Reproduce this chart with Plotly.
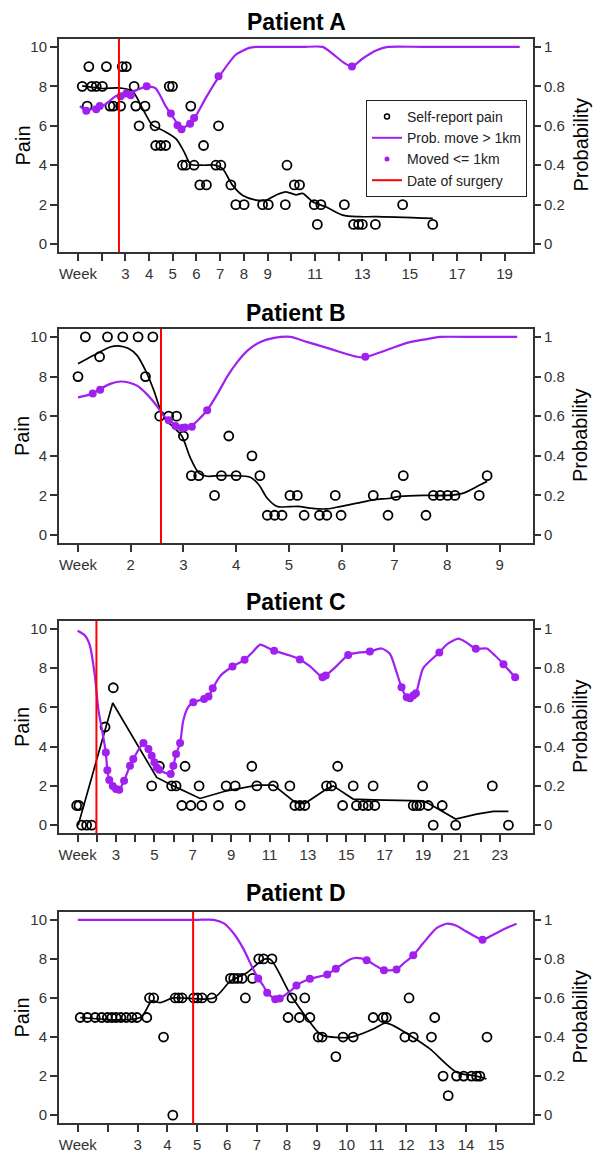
import plotly.graph_objects as go

W, H = 593, 1159
PURPLE = '#A020F0'
FONT = 'Liberation Sans, Arial, sans-serif'
AX = '#333333'

# ---------------- Patient A ----------------
A_pain_week = [1.18, 1.58, 1.77, 2.03, 3.37, 4.85, 4.99,
               1.46, 2.2, 2.87, 3.04,
               1.39, 2.35, 2.49, 2.8, 3.44, 3.83, 5.76,
               3.58, 4.25, 6.93,
               4.28, 4.49, 4.70, 6.3,
               5.41, 5.55, 5.9, 6.82, 7.03, 9.82,
               6.14, 6.42, 7.45, 10.13, 10.35,
               7.66, 8.01, 8.79, 9.03, 9.75, 10.97, 11.25, 12.24, 14.7,
               11.1, 12.63, 12.84, 13.0, 13.55, 15.97]
A_pain = [8, 8, 8, 8, 8, 8, 8,
          9, 9, 9, 9,
          7, 7, 7, 7, 7, 7, 7,
          6, 6, 6,
          5, 5, 5, 5,
          4, 4, 4, 4, 4, 4,
          3, 3, 3, 3, 3,
          2, 2, 2, 2, 2, 2, 2, 2, 2,
          1, 1, 1, 1, 1, 1]
A_fit_week = [1.18, 2.03, 2.73, 3.30, 3.72, 4.14, 4.56, 5.13, 5.48, 5.76, 6.25, 6.82, 7.10,
              7.52, 7.94, 8.51, 8.93, 9.35, 9.77, 10.2, 10.48, 10.9, 11.46, 12.17, 12.87, 13.58, 15.97]
A_fit = [8.02, 7.89, 7.92, 7.75, 6.88, 6.03, 5.78, 5.35, 4.68, 4.05, 4.0, 4.0, 3.83,
         2.99, 2.48, 2.23, 2.23, 2.48, 2.65, 2.5, 2.57, 2.15, 1.89, 1.47, 1.39, 1.39, 1.30]
A_prob_week = [1.08, 1.32, 1.75, 2.17, 2.59, 3.01, 3.44, 3.93, 4.28, 4.70, 4.92, 5.27, 5.41, 5.69,
               5.97, 6.39, 6.96, 7.66, 8.23, 8.51, 9.5, 10.5, 11.32, 11.74, 12.17, 12.56, 13.0,
               13.6, 14.07, 15.5, 17.5, 19.64]
A_prob = [0.70, 0.68, 0.69, 0.71, 0.75, 0.76, 0.78, 0.80, 0.79, 0.70, 0.66, 0.60, 0.59, 0.61,
          0.65, 0.74, 0.85, 0.96, 0.995, 1.0, 1.0, 1.0, 1.0, 0.966, 0.924, 0.90, 0.94,
          0.983, 1.0, 1.0, 1.0, 1.0]
A_dot_week = [1.35, 1.77, 1.92, 2.8, 3.04, 3.23, 3.9, 4.92, 5.2, 5.37, 5.73, 5.9, 6.93, 12.56]
A_dot = [0.676, 0.684, 0.70, 0.75, 0.764, 0.755, 0.80, 0.662, 0.603, 0.583, 0.61, 0.64, 0.851, 0.90]
A_surgery = 2.73
A_ticks = list(range(1, 20))
A_ticktext = ['Week', '', '3', '4', '5', '6', '7', '8', '9', '', '11', '', '13', '', '15', '', '17', '', '19']

# ---------------- Patient B ----------------
B_pain_week = [1.0, 1.14, 1.41, 1.56, 1.85, 2.14, 2.42, 2.28, 2.55, 2.72, 2.87, 3.0, 3.15, 3.29,
               3.59, 3.72, 3.86, 4.0, 4.30, 4.45, 4.59, 4.73, 4.87, 5.02, 5.16, 5.29, 5.58, 5.72,
               5.88, 5.99, 6.60, 6.88, 7.03, 7.17, 7.6, 7.74, 7.87, 8.01, 8.15, 8.61, 8.76]
B_pain = [8, 10, 9, 10, 10, 10, 10, 8, 6, 6, 6, 5, 3, 3,
          2, 3, 5, 3, 4, 3, 1, 1, 1, 2, 2, 1, 1, 1,
          2, 1, 2, 1, 2, 3, 1, 2, 2, 2, 2, 2, 3]
B_fit_week = [1.0, 1.30, 1.61, 1.80, 1.96, 2.12, 2.28, 2.44, 2.56, 2.69, 2.82, 2.97, 3.13, 3.29,
              3.45, 3.70, 3.96, 4.27, 4.43, 4.59, 4.78, 5.03, 5.22, 5.40, 5.72, 5.97, 6.29, 6.60,
              6.92, 7.11, 7.55, 7.99, 8.31, 8.63, 8.76]
B_fit = [8.64, 9.07, 9.49, 9.54, 9.41, 9.07, 8.31, 7.29, 6.36, 5.76, 5.42, 5.0, 3.9, 3.14,
         2.97, 3.0, 3.0, 2.92, 2.54, 1.86, 1.44, 1.44, 1.44, 1.36, 1.32, 1.44, 1.61, 1.78,
         1.86, 1.95, 2.0, 2.0, 2.12, 2.54, 2.71]
B_prob_week = [1.0, 1.23, 1.42, 1.61, 1.80, 1.96, 2.12, 2.31, 2.5, 2.63, 2.72, 2.82, 2.97, 3.13,
               3.26, 3.45, 3.64, 3.83, 4.02, 4.21, 4.46, 4.72, 5.03, 5.34, 5.66, 5.97, 6.29, 6.45,
               6.60, 6.92, 7.24, 7.55, 7.87, 8.5, 9.33]
B_prob = [0.695, 0.71, 0.737, 0.763, 0.775, 0.77, 0.754, 0.71, 0.65, 0.60, 0.585, 0.56, 0.54, 0.546,
          0.576, 0.63, 0.71, 0.80, 0.873, 0.93, 0.975, 0.995, 1.0, 0.975, 0.95, 0.924, 0.90, 0.898,
          0.91, 0.94, 0.97, 0.986, 1.0, 1.0, 1.0]
B_dot_week = [1.28, 1.42, 2.72, 2.85, 2.97, 3.03, 3.16, 3.45, 6.45]
B_dot = [0.715, 0.734, 0.58, 0.55, 0.54, 0.543, 0.547, 0.63, 0.90]
B_surgery = 2.575
B_ticks = list(range(1, 10))
B_ticktext = ['Week', '2', '3', '4', '5', '6', '7', '8', '9']

# ---------------- Patient C ----------------
C_pain_week = [0.95, 1.07, 1.21, 1.47, 1.73, 2.43, 2.86, 4.86, 5.26, 5.9, 6.13, 6.43, 6.6, 6.9,
               7.33, 7.47, 8.34, 8.74, 9.21, 9.47, 10.08, 10.34, 11.2, 12.06, 12.32, 12.58, 12.84,
               13.97, 14.23, 14.55, 14.81, 15.36, 15.53, 15.88, 16.14, 16.49, 16.4, 18.49, 18.67,
               18.84, 18.98, 19.27, 19.53, 20.0, 20.7, 22.61, 23.45]
C_pain = [1, 1, 0, 0, 0, 5, 7, 2, 3, 2, 2, 1, 3, 1,
          2, 1, 1, 2, 2, 1, 3, 2, 2, 2, 1, 1, 1,
          2, 2, 3, 1, 2, 1, 1, 1, 1, 2, 1, 1,
          1, 2, 1, 0, 1, 0, 2, 0]
C_fit_week = [1.03, 2.83, 5.12, 5.99, 7.38, 8.77, 10.34, 11.21, 12.34, 12.84, 13.97, 14.32, 15.36,
              16.41, 19.01, 19.36, 20.70, 21.79, 22.66, 23.45]
C_fit = [0, 6.22, 2.43, 2.0, 1.36, 1.75, 2.04, 2.04, 1.16, 1.1, 1.84, 2.0, 1.33,
         1.29, 1.24, 1.07, 0.31, 0.56, 0.70, 0.70]
C_prob_week = [1.0, 1.38, 1.64, 1.9, 2.08, 2.3, 2.47, 2.55, 2.65, 2.83, 3.0, 3.17, 3.42, 3.73, 3.9,
               4.15, 4.43, 4.69, 4.86, 5.0, 5.12, 5.26, 5.6, 5.85, 5.99, 6.13, 6.34, 6.5, 6.75,
               7.03, 7.59, 7.82, 8.04, 8.43, 9.07, 9.70, 10.1, 10.51, 10.86, 11.24, 12.06, 12.58,
               13.1, 13.76, 13.93, 14.49, 15.10, 15.71, 16.23, 16.84, 17.28, 17.62, 17.88, 18.15,
               18.32, 18.49, 18.63, 19.01, 19.85, 20.23, 20.84, 21.27, 21.75, 22.32, 22.75, 23.19, 23.80]
C_prob = [0.99, 0.966, 0.915, 0.76, 0.59, 0.47, 0.37, 0.28, 0.23, 0.20, 0.184, 0.18, 0.226, 0.303, 0.337,
          0.38, 0.418, 0.388, 0.354, 0.32, 0.294, 0.282, 0.265, 0.26, 0.303, 0.362, 0.418, 0.53, 0.60,
          0.626, 0.643, 0.655, 0.697, 0.76, 0.808, 0.842, 0.88, 0.92, 0.906, 0.889, 0.864, 0.844,
          0.81, 0.753, 0.762, 0.81, 0.867, 0.88, 0.884, 0.90, 0.872, 0.78, 0.702, 0.651,
          0.646, 0.66, 0.672, 0.80, 0.88, 0.92, 0.95, 0.93, 0.898, 0.90, 0.864, 0.82, 0.753]
C_dot_week = [2.47, 2.55, 2.65, 2.83, 3.0, 3.17, 3.42, 3.73, 3.9, 4.43, 4.69, 4.86, 5.0, 5.12, 5.26,
              5.85, 5.99, 6.13, 6.34, 7.03, 7.59, 7.82, 8.04, 9.07, 9.70, 11.24, 12.58, 13.76, 13.93,
              15.10, 16.23, 17.88, 18.15, 18.32, 18.49, 18.63, 19.85, 21.75, 23.19, 23.80]
C_dot = [0.37, 0.28, 0.23, 0.20, 0.184, 0.18, 0.226, 0.303, 0.337, 0.418, 0.388, 0.354, 0.32, 0.294, 0.282,
         0.26, 0.303, 0.362, 0.418, 0.626, 0.643, 0.655, 0.697, 0.808, 0.842, 0.889, 0.844, 0.753, 0.762,
         0.867, 0.884, 0.702, 0.651, 0.646, 0.66, 0.672, 0.88, 0.898, 0.82, 0.753]
C_surgery = 1.98
C_ticks = list(range(1, 24))
C_ticktext = ['Week'] + [str(k) if k % 2 == 1 else '' for k in range(2, 24)]

# ---------------- Patient D ----------------
D_pain_week = [1.08, 1.32, 1.58, 1.80, 1.99, 2.14, 2.28, 2.44, 2.62, 2.81, 2.98, 3.31,
               3.40, 3.54, 4.26, 4.37, 4.49, 4.88, 5.01, 5.16, 5.49, 6.61,
               3.87, 4.18,
               6.11, 6.22, 6.35, 6.50, 6.85,
               7.06, 7.22, 7.50,
               8.04, 8.17, 8.42, 8.6, 8.77, 9.05, 9.18, 9.64, 9.88, 10.22, 10.89, 11.22, 11.33,
               11.95, 12.09, 12.23, 12.84, 12.95, 13.23, 13.40, 13.68, 13.92, 14.18, 14.35, 14.46, 14.70]
D_pain = [5, 5, 5, 5, 5, 5, 5, 5, 5, 5, 5, 5,
          6, 6, 6, 6, 6, 6, 6, 6, 6, 6,
          4, 0,
          7, 7, 7, 7, 7,
          8, 8, 8,
          5, 6, 5, 6, 5, 4, 4, 3, 4, 4, 5, 5, 5,
          4, 6, 4, 4, 5, 2, 1, 2, 2, 2, 2, 2, 4]
D_fit_week = [1.08, 3.09, 3.48, 3.76, 4.2, 5.55, 6.11, 6.66, 7.22, 7.45, 8.15, 9.05, 9.22, 10.11,
              10.89, 11.28, 11.45, 12.23, 12.79, 13.68, 14.35, 14.68]
D_fit = [5, 5, 5.85, 5.76, 6.0, 6.0, 6.86, 7.29, 7.97, 7.97, 6.1, 4.24, 4.07, 3.98,
         4.41, 4.71, 4.66, 3.98, 3.39, 2.2, 2.0, 1.86]
D_prob_week = [1.0, 3.0, 5.0, 5.55, 5.88, 6.22, 6.55, 6.83, 7.04, 7.22, 7.34, 7.61, 7.76, 8.12, 8.32,
               8.77, 9.35, 9.64, 10.11, 10.33, 10.67, 11.0, 11.25, 11.67, 11.90, 12.23, 12.56,
               13.01, 13.35, 13.68, 14.01, 14.55, 14.91, 15.35, 15.69]
D_prob = [1.0, 1.0, 1.0, 1.0, 0.983, 0.93, 0.85, 0.76, 0.70, 0.66, 0.627, 0.593, 0.597, 0.636, 0.664,
          0.698, 0.72, 0.75, 0.797, 0.805, 0.793, 0.763, 0.742, 0.746, 0.776, 0.818, 0.88,
          0.958, 0.98, 0.97, 0.94, 0.898, 0.924, 0.958, 0.98]
D_dot_week = [7.04, 7.34, 7.61, 7.76, 8.32, 8.77, 9.35, 9.64, 10.67, 11.25, 11.67, 12.23, 14.55]
D_dot = [0.70, 0.627, 0.593, 0.597, 0.664, 0.698, 0.72, 0.75, 0.793, 0.742, 0.746, 0.818, 0.898]
D_surgery = 4.86
D_ticks = list(range(1, 16))
D_ticktext = ['Week', ''] + [str(k) for k in range(3, 16)]

pain_ticks = [0, 2, 4, 6, 8, 10]
prob_ticks = [0, 0.2, 0.4, 0.6, 0.8, 1]
prob_ticktext = ['0', '0.2', '0.4', '0.6', '0.8', '1']

panels = [
    dict(title='Patient A', pw=A_pain_week, p=A_pain, fw=A_fit_week, f=A_fit, qw=A_prob_week, q=A_prob,
         dw=A_dot_week, d=A_dot, s=A_surgery, tv=A_ticks, tt=A_ticktext, xr=[0.2, 20.2],
         box=(39, 252), ty=22, shape='spline'),
    dict(title='Patient B', pw=B_pain_week, p=B_pain, fw=B_fit_week, f=B_fit, qw=B_prob_week, q=B_prob,
         dw=B_dot_week, d=B_dot, s=B_surgery, tv=B_ticks, tt=B_ticktext, xr=[0.64, 9.63],
         box=(329, 543), ty=313, shape='spline'),
    dict(title='Patient C', pw=C_pain_week, p=C_pain, fw=C_fit_week, f=C_fit, qw=C_prob_week, q=C_prob,
         dw=C_dot_week, d=C_dot, s=C_surgery, tv=C_ticks, tt=C_ticktext, xr=[0.03, 24.73],
         box=(621, 833), ty=602, shape='linear'),
    dict(title='Patient D', pw=D_pain_week, p=D_pain, fw=D_fit_week, f=D_fit, qw=D_prob_week, q=D_prob,
         dw=D_dot_week, d=D_dot, s=D_surgery, tv=D_ticks, tt=D_ticktext, xr=[0.37, 16.24],
         box=(912, 1123), ty=893, shape='spline'),
]

X_L, X_R = 59, 533
PAIN_RANGE = [-0.4, 10.4]
PROB_RANGE = [-0.04, 1.04]

fig = go.Figure()
layout = dict(width=W, height=H, margin=dict(l=0, r=0, t=0, b=0),
              paper_bgcolor='white', plot_bgcolor='white', template='none',
              font=dict(family=FONT, color='#222'), hovermode=False,
              showlegend=True, shapes=[], annotations=[])

for i, pn in enumerate(panels):
    n = i + 1
    xa = 'x' if n == 1 else f'x{n}'
    ya = 'y' if n == 1 else f'y{n}'
    ya2 = f'y{n + 4}'
    top, bot = pn['box']
    ydom = [1 - bot / H, 1 - top / H]
    xdom = [X_L / W, X_R / W]

    # self-report pain
    fig.add_trace(go.Scatter(x=pn['pw'], y=pn['p'], mode='markers', xaxis=xa, yaxis=ya,
                             marker=dict(symbol='circle-open', size=9, color='black',
                                         line=dict(width=1.8, color='black')),
                             showlegend=False))
    # smoothed pain
    fig.add_trace(go.Scatter(x=pn['fw'], y=pn['f'], mode='lines', xaxis=xa, yaxis=ya,
                             line=dict(color='black', width=1.7, shape=pn['shape'],
                                       smoothing=0.8 if pn['shape'] == 'spline' else None),
                             showlegend=False))
    # probability line
    fig.add_trace(go.Scatter(x=pn['qw'], y=pn['q'], mode='lines', xaxis=xa, yaxis=ya2,
                             line=dict(color=PURPLE, width=2.2, shape='spline', smoothing=0.6),
                             showlegend=False))
    # moved <= 1km
    fig.add_trace(go.Scatter(x=pn['dw'], y=pn['d'], mode='markers', xaxis=xa, yaxis=ya2,
                             marker=dict(symbol='circle', size=8, color=PURPLE),
                             showlegend=False))
    # surgery line
    layout['shapes'].append(dict(type='line', xref=xa, yref=f'{ya} domain', x0=pn['s'], x1=pn['s'],
                                 y0=0, y1=1, line=dict(color='#FF0000', width=2), layer='above'))

    axis_common = dict(showgrid=False, zeroline=False, ticks='outside', ticklen=7, tickwidth=1.5,
                       tickcolor=AX, tickfont=dict(size=15, color='#333', family=FONT),
                       automargin=False)
    layout['xaxis' if n == 1 else f'xaxis{n}'] = dict(
        domain=xdom, range=pn['xr'], anchor=ya, tickmode='array', tickvals=pn['tv'], ticktext=pn['tt'],
        showline=True, linecolor=AX, linewidth=2, mirror=True, **axis_common)
    layout['yaxis' if n == 1 else f'yaxis{n}'] = dict(
        domain=ydom, range=PAIN_RANGE, anchor=xa, tickmode='array', tickvals=pain_ticks,
        showline=True, linecolor=AX, linewidth=2, mirror=True, **axis_common)
    layout[f'yaxis{n + 4}'] = dict(
        domain=ydom, range=PROB_RANGE, anchor=xa, overlaying=ya, side='right', tickmode='array',
        tickvals=prob_ticks, ticktext=prob_ticktext, showline=False, **axis_common)

    cy = 1 - (top + bot) / 2 / H
    layout['annotations'].append(dict(text=f'<b>{pn["title"]}</b>', xref='paper', yref='paper',
                                      x=(X_L + X_R) / 2 / W, y=1 - pn['ty'] / H, showarrow=False,
                                      xanchor='center', yanchor='middle',
                                      font=dict(size=23, color='black', family=FONT)))
    layout['annotations'].append(dict(text='Pain', xref='paper', yref='paper', x=22 / W, y=cy,
                                      showarrow=False, textangle=-90, xanchor='center', yanchor='middle',
                                      font=dict(size=20, color='black', family=FONT)))
    layout['annotations'].append(dict(text='Probability', xref='paper', yref='paper', x=580 / W, y=cy,
                                      showarrow=False, textangle=-90, xanchor='center', yanchor='middle',
                                      font=dict(size=20, color='black', family=FONT)))

# legend entries (drawn nothing, legend only)
fig.add_trace(go.Scatter(x=[None], y=[None], mode='markers', name='Self-report pain',
                         marker=dict(symbol='circle-open', size=5, color='black',
                                     line=dict(width=1.5, color='black'))))
fig.add_trace(go.Scatter(x=[None], y=[None], mode='lines', name='Prob. move > 1km',
                         line=dict(color=PURPLE, width=2)))
fig.add_trace(go.Scatter(x=[None], y=[None], mode='markers', name='Moved <= 1km',
                         marker=dict(symbol='circle', size=5, color=PURPLE)))
fig.add_trace(go.Scatter(x=[None], y=[None], mode='lines', name='Date of surgery',
                         line=dict(color='#FF0000', width=2)))

layout['legend'] = dict(x=366 / W, y=1 - 100 / H, xanchor='left', yanchor='top', bgcolor='white',
                        bordercolor='#222', borderwidth=1, font=dict(size=14, color='#222', family=FONT),
                        tracegroupgap=0, traceorder='normal', itemwidth=30)
fig.update_layout(**layout)
fig.write_html('out.html', config={'displayModeBar': False})
